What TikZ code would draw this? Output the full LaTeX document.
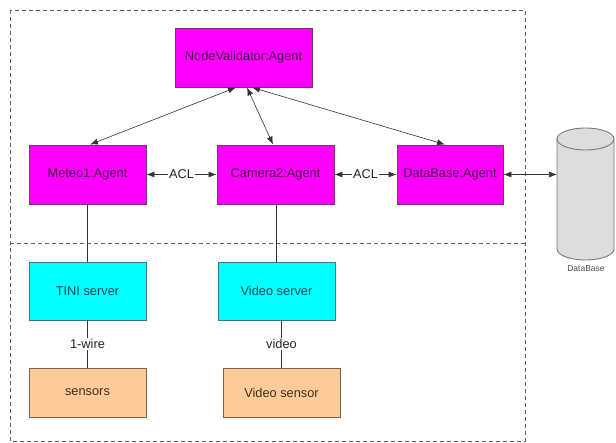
\documentclass[tikz,border=0pt]{standalone}
\usepackage{fontspec}
\setmainfont{Liberation Sans}
\usepackage{xcolor}
\usepackage{tikz}
\usetikzlibrary{arrows.meta}
\definecolor{agentfill}{HTML}{FF00FF}
\definecolor{agentline}{HTML}{7A307A}
\definecolor{agenttext}{HTML}{4A004A}
\definecolor{srvfill}{HTML}{00FFFF}
\definecolor{srvline}{HTML}{357880}
\definecolor{srvtext}{HTML}{004850}
\definecolor{sensfill}{HTML}{FFCC99}
\definecolor{sensline}{HTML}{806448}
\definecolor{senstext}{HTML}{40301C}
\definecolor{framegray}{HTML}{606060}
\definecolor{dbfill}{HTML}{DDDDDD}
\definecolor{dbline}{HTML}{7A7A7A}

\begin{document}
\begin{tikzpicture}[x=1pt,y=-1pt,font=\fontsize{12.8}{15}\selectfont,
  box/.style={draw,line width=0.9pt,inner sep=0pt,minimum height=59pt},
  agent/.style={box,fill=agentfill,draw=agentline,text=agenttext},
  server/.style={box,fill=srvfill,draw=srvline,text=srvtext,minimum height=58pt},
  sensor/.style={box,fill=sensfill,draw=sensline,text=senstext,minimum height=49pt},
  link/.style={line width=0.6pt,draw=black!80},
  dlink/.style={link,{Latex[length=8pt,width=6pt]}-{Latex[length=8pt,width=6pt]}},
  lbl/.style={fill=white,inner sep=1.5pt,text=black!85},
  zone/.style={draw=framegray,line width=0.8pt,dash pattern=on 4pt off 3pt}]
\useasboundingbox (0,0) rectangle (616,443);
\draw[zone] (10,10) rectangle (525,441);
\draw[zone] (10,243) -- (525,243);
\foreach \n/\x/\w/\t in {nv/243.5/137/NodeValidator:Agent}{
  \node[agent,minimum width=\w pt] (\n) at (\x,57.5) {\t};
}
\foreach \n/\x/\w/\t in {meteo/87.5/117/Meteo1:Agent,cam/275.5/117/Camera2:Agent,dba/450/106/DataBase:Agent}{
  \node[agent,minimum width=\w pt] (\n) at (\x,174.5) {\t};
}
\foreach \n/\x/\t in {tini/87.5/TINI server,vsrv/276.5/Video server}{
  \node[server,minimum width=117pt] (\n) at (\x,291) {\t};
}
\foreach \n/\x/\t in {sens/87.5/sensors,vsens/281.5/Video sensor}{
  \node[sensor,minimum width=117pt] (\n) at (\x,392.5) {\t};
}
\fill[dbfill] (557,139) -- (557,249) arc[start angle=180,end angle=0,x radius=28.5,y radius=11] -- (614,139) arc[start angle=0,end angle=-180,x radius=28.5,y radius=11] -- cycle;
\draw[dbline,line width=0.9pt] (557,139) -- (557,249) arc[start angle=180,end angle=0,x radius=28.5,y radius=11] -- (614,139);
\draw[dbline,line width=0.9pt] (585.5,139) ellipse[x radius=28.5,y radius=11];
\coordinate (cyl) at (557,174.5);
\node[font=\fontsize{8.5}{10}\selectfont,text=black!70] (cyllbl) at (586,269) {DataBase};
\draw[dlink] ([xshift=-7.5pt]nv.south) -- ([xshift=2.5pt]meteo.north);
\draw[dlink] ([xshift=3.5pt]nv.south) -- ([xshift=-2.5pt]cam.north);
\draw[dlink] ([xshift=8.5pt]nv.south) -- ([xshift=-5pt]dba.north);
\draw[dlink] (meteo.east) -- node[lbl] {ACL} (cam.west);
\draw[dlink] (cam.east) -- node[lbl] {ACL} (dba.west);
\draw[dlink] (dba.east) -- (cyl);
\draw[link] (meteo.south) -- (tini.north);
\draw[link] (vsrv.north) -- (vsrv.north |- cam.south);
\draw[link] (tini.south) -- node[lbl] {1-wire} (sens.north);
\draw[link] (vsens.north) -- node[lbl] {video} (vsens.north |- vsrv.south);
\end{tikzpicture}
\end{document}
